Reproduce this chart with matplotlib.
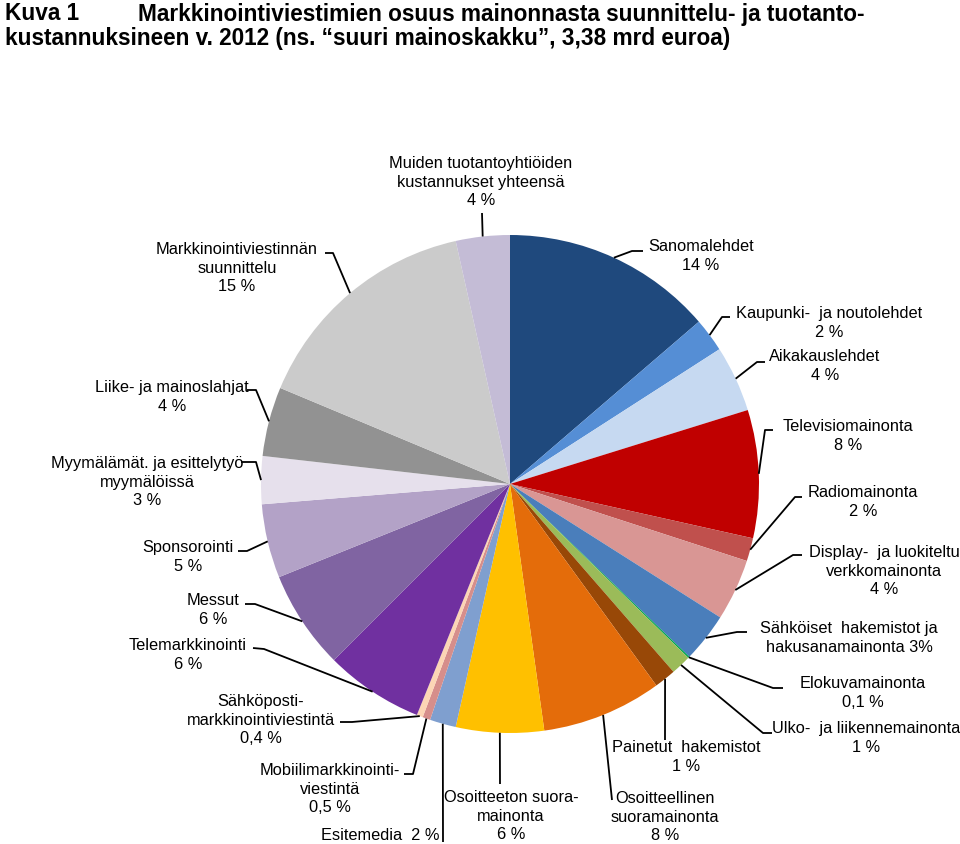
import matplotlib
matplotlib.use('Agg')
import matplotlib.pyplot as plt
import numpy as np

plt.rcParams['font.family'] = ['Liberation Sans', 'DejaVu Sans']

# ---------------- data ----------------
names = [
    'Sanomalehdet',
    'Kaupunki-  ja noutolehdet',
    'Aikakauslehdet',
    'Televisiomainonta',
    'Radiomainonta',
    'Display-  ja luokiteltu\nverkkomainonta',
    'Sähköiset  hakemistot ja\nhakusanamainonta',
    'Elokuvamainonta',
    'Ulko-  ja liikennemainonta',
    'Painetut  hakemistot',
    'Osoitteellinen\nsuoramainonta',
    'Osoitteeton suora-\nmainonta',
    'Esitemedia ',
    'Mobiilimarkkinointi-\nviestintä',
    'Sähköposti-\nmarkkinointiviestintä',
    'Telemarkkinointi',
    'Messut',
    'Sponsorointi',
    'Myymälämät. ja esittelytyö\nmyymälöissä',
    'Liike- ja mainoslahjat',
    'Markkinointiviestinnän\nsuunnittelu',
    'Muiden tuotantoyhtiöiden\nkustannukset yhteensä',
]
values = [13.7, 2.2, 4.3, 8.3, 1.5, 4.0, 3.2, 0.1, 1.3, 1.4, 7.8, 5.7,
          1.7, 0.5, 0.4, 6.4, 6.4, 4.8, 3.1, 4.5, 15.2, 3.5]
pct_labels = ['14 %', '2 %', '4 %', '8 %', '2 %', '4 %', '3%', '0,1 %', '1 %',
              '1 %', '8 %', '6 %', '2 %', '0,5 %', '0,4 %', '6 %', '6 %', '5 %',
              '3 %', '4 %', '15 %', '4 %']
pct_on_same_line = [False] * 6 + [True] + [False] * 5 + [True] + [False] * 9

colors = ['#1F497D', '#558ED5', '#C6D9F1', '#C00000', '#C0504D', '#D99694',
          '#4A7EBB', '#00A650', '#9BBB59', '#984807', '#E46C0A', '#FFC000',
          '#7F9FCF', '#D68E8B', '#FCD5B5', '#7030A0', '#8064A2', '#B3A2C7',
          '#E6E0EC', '#929292', '#CBCBCB', '#C4BCD6']

# ---------------- layout (pixel coords) ----------------
CX, CY, R = 510, 484, 249
# text centre x, first-line centre y, leader points from text side toward pie
layout = [
    (701, 245, [(643, 251), (632, 251)]),
    (829, 312, [(730, 317), (722, 317)]),
    (825, 355, [(765, 362), (757, 362)]),
    (848, 425, [(773, 430), (765, 430)]),
    (863, 491, [(802, 497), (795, 497)]),
    (884, 551, [(802, 555), (793, 555)]),
    (849, 627, [(747, 632), (737, 632)]),
    (863, 682, [(783, 688), (773, 688)]),
    (866, 727, [(772, 733), (763, 733)]),
    (686, 746, [(665, 740)]),
    (665, 797, [(612, 800)]),
    (511, 796, [(500, 784)]),
    (380, 834, [(443, 842)]),
    (330, 769, [(404, 774), (413, 774)]),
    (261, 700, [(340, 722), (352, 722)]),
    (188, 644, [(253, 648), (264, 649)]),
    (213, 599, [(245, 604), (255, 604)]),
    (188, 546, [(238, 551), (247, 551)]),
    (147, 462, [(241, 462), (256, 462)]),
    (172, 386, [(247, 390), (256, 390)]),
    (237, 248, [(325, 253), (333, 253)]),
    (481, 162, [(482, 213)]),
]

fig = plt.figure(figsize=(9.6, 8.44), dpi=100)
ax = fig.add_axes([0, 0, 1, 1])
wedges, _ = ax.pie(values, colors=colors, startangle=-90, counterclock=True,
                   radius=R, center=(CX, CY),
                   wedgeprops=dict(linewidth=0))
ax.set_xlim(0, 960)
ax.set_ylim(844, 0)
ax.set_aspect('auto')
ax.axis('off')

FS = 11.8
for w, name, pct, same, (tx, ty, pts) in zip(wedges, names, pct_labels,
                                              pct_on_same_line, layout):
    label = name + (' ' if same else '\n') + pct
    ax.text(tx, ty - 6, label, ha='center', va='top', fontsize=FS,
            linespacing=1.3, color='black')
    th = np.deg2rad((w.theta1 + w.theta2) / 2)
    px, py = CX + R * np.cos(th), CY + R * np.sin(th)
    xs = [p[0] for p in pts] + [px]
    ys = [p[1] for p in pts] + [py]
    ax.plot(xs, ys, color='black', lw=1.3, solid_capstyle='butt')

TFS = 16.3
ax.text(5, 14, 'Kuva 1', fontsize=TFS, weight='bold', va='center', ha='left')
ax.text(138, 14, 'Markkinointiviestimien osuus mainonnasta suunnittelu- ja tuotanto-',
        fontsize=TFS, weight='bold', va='center', ha='left')
ax.text(5, 39, 'kustannuksineen v. 2012 (ns. \u201csuuri mainoskakku\u201d, 3,38 mrd euroa)',
        fontsize=TFS, weight='bold', va='center', ha='left')

fig.savefig('out.png', dpi=100)
